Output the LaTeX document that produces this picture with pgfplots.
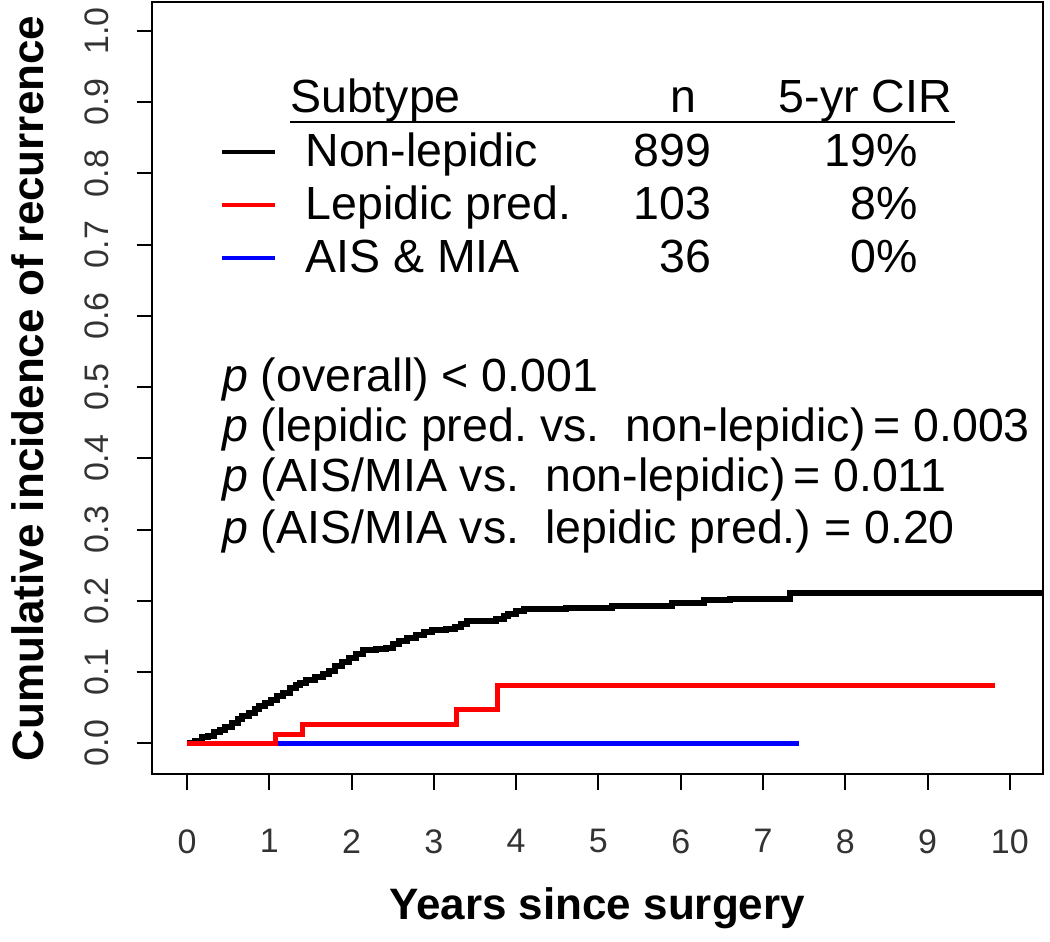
\documentclass[border=0pt]{standalone}
\usepackage{pgfplots}
\pgfplotsset{compat=1.18}
\usepackage{fontspec}
\setmainfont{Liberation Sans}
\frenchspacing
\pgfplotstableread{
x y
0 0
0.10 0.003
0.18 0.008
0.25 0.010
0.33 0.015
0.40 0.019
0.46 0.022
0.55 0.028
0.62 0.034
0.67 0.038
0.75 0.043
0.82 0.048
0.88 0.052
0.95 0.057
1.02 0.061
1.09 0.066
1.17 0.071
1.25 0.077
1.32 0.082
1.37 0.085
1.45 0.089
1.55 0.093
1.65 0.097
1.72 0.102
1.80 0.108
1.88 0.114
1.97 0.120
2.05 0.125
2.14 0.131
2.30 0.132
2.42 0.134
2.50 0.139
2.58 0.144
2.67 0.148
2.78 0.152
2.88 0.156
2.98 0.159
3.15 0.161
3.26 0.163
3.33 0.167
3.40 0.171
3.60 0.172
3.76 0.175
3.85 0.179
3.90 0.182
4.00 0.185
4.10 0.188
4.60 0.190
5.16 0.193
5.89 0.197
6.28 0.201
6.60 0.202
7.33 0.211
10.5 0.211
}\nonlep
\pgfplotstableread{
x y
0 0
1.08 0.012
1.40 0.026
3.28 0.047
3.77 0.081
9.82 0.081
}\lep
\pgfplotstableread{
x y
1.10 0
7.44 0
}\ais
\begin{document}
\begin{tikzpicture}
\begin{axis}[
  scale only axis, width=445.5pt, height=386pt,
  xmin=-0.43, xmax=10.4, ymin=-0.044, ymax=1.04,
  axis line style={line width=1pt},
  tick style={line width=1pt, black},
  tick align=outside, major tick length=7.5pt,
  xtick={0,1,2,3,4,5,6,7,8,9,10},
  ytick={0,0.1,0.2,0.3,0.4,0.5,0.6,0.7,0.8,0.9,1.0},
  xtick pos=bottom, ytick pos=left,
  minor tick num=0,
  /pgf/number format/assume math mode=true,
  tick label style={font=\fontsize{17}{20}\selectfont, black!80},
  yticklabel style={xshift=-10.6pt, rotate=90, anchor=south,
    /pgf/number format/fixed, /pgf/number format/fixed zerofill,
    /pgf/number format/precision=1},
  xticklabel style={anchor=north, yshift=-16.5pt},
  xlabel={Years since surgery},
  ylabel={Cumulative incidence of recurrence},
  label style={font=\bfseries\fontsize{22}{26}\selectfont},
  xlabel style={at={(axis description cs:0.5,-0.1729)}, anchor=center},
  ylabel style={at={(axis description cs:-0.1388,0.5)}, anchor=center},
]
\coordinate (SW) at (rel axis cs:0,0);
\addplot[const plot, line width=3pt, black] table[x=x,y=y] {\nonlep};
\addplot[const plot, line width=2.5pt, red] table[x=x,y=y] {\lep};
\addplot[const plot, line width=2.5pt, blue] table[x=x,y=y] {\ais};

% legend table
\begin{scope}[every node/.style={inner sep=0pt, font=\fontsize{23.25}{28}\selectfont}]
\node[anchor=base west] at (axis cs:1.248,0.886) {Subtype};
\node[anchor=base] at (axis cs:6.03,0.886) {n};
\node[anchor=base east] at (axis cs:9.30,0.886) {5-yr CIR};
\draw[line width=1pt] (axis cs:1.248,0.872) -- (axis cs:9.33,0.872);

\draw[line width=2pt, black] (axis cs:0.422,0.830) -- (axis cs:1.066,0.830);
\node[anchor=base west] at (axis cs:1.434,0.810) {Non-lepidic};
\node[anchor=base east] at (axis cs:6.378,0.810) {899};
\node[anchor=base east] at (axis cs:8.882,0.810) {19\%};

\draw[line width=2pt, red] (axis cs:0.422,0.756) -- (axis cs:1.066,0.756);
\node[anchor=base west] at (axis cs:1.434,0.735) {Lepidic pred.};
\node[anchor=base east] at (axis cs:6.378,0.735) {103};
\node[anchor=base east] at (axis cs:8.882,0.735) {8\%};

\draw[line width=2pt, blue] (axis cs:0.422,0.681) -- (axis cs:1.066,0.681);
\node[anchor=base west] at (axis cs:1.434,0.661) {AIS \& MIA};
\node[anchor=base east] at (axis cs:6.378,0.661) {36};
\node[anchor=base east] at (axis cs:8.882,0.661) {0\%};

\node[anchor=base west] at (axis cs:0.422,0.4939) {\textit{p} (overall) < 0.001};
\node[anchor=base west] at (axis cs:0.422,0.4237) {\textit{p} (lepidic pred. vs.\ \ non-lepidic)\,= 0.003};
\node[anchor=base west] at (axis cs:0.422,0.3535) {\textit{p} (AIS/MIA vs.\ \ non-lepidic)\,= 0.011};
\node[anchor=base west] at (axis cs:0.422,0.2805) {\textit{p} (AIS/MIA vs.\ \ lepidic pred.) = 0.20};
\end{scope}
\end{axis}
\pgfresetboundingbox
\path[use as bounding box] (SW) ++(-75.85pt,-83.75pt) rectangle ++(525pt,471pt);
\end{tikzpicture}
\end{document}
